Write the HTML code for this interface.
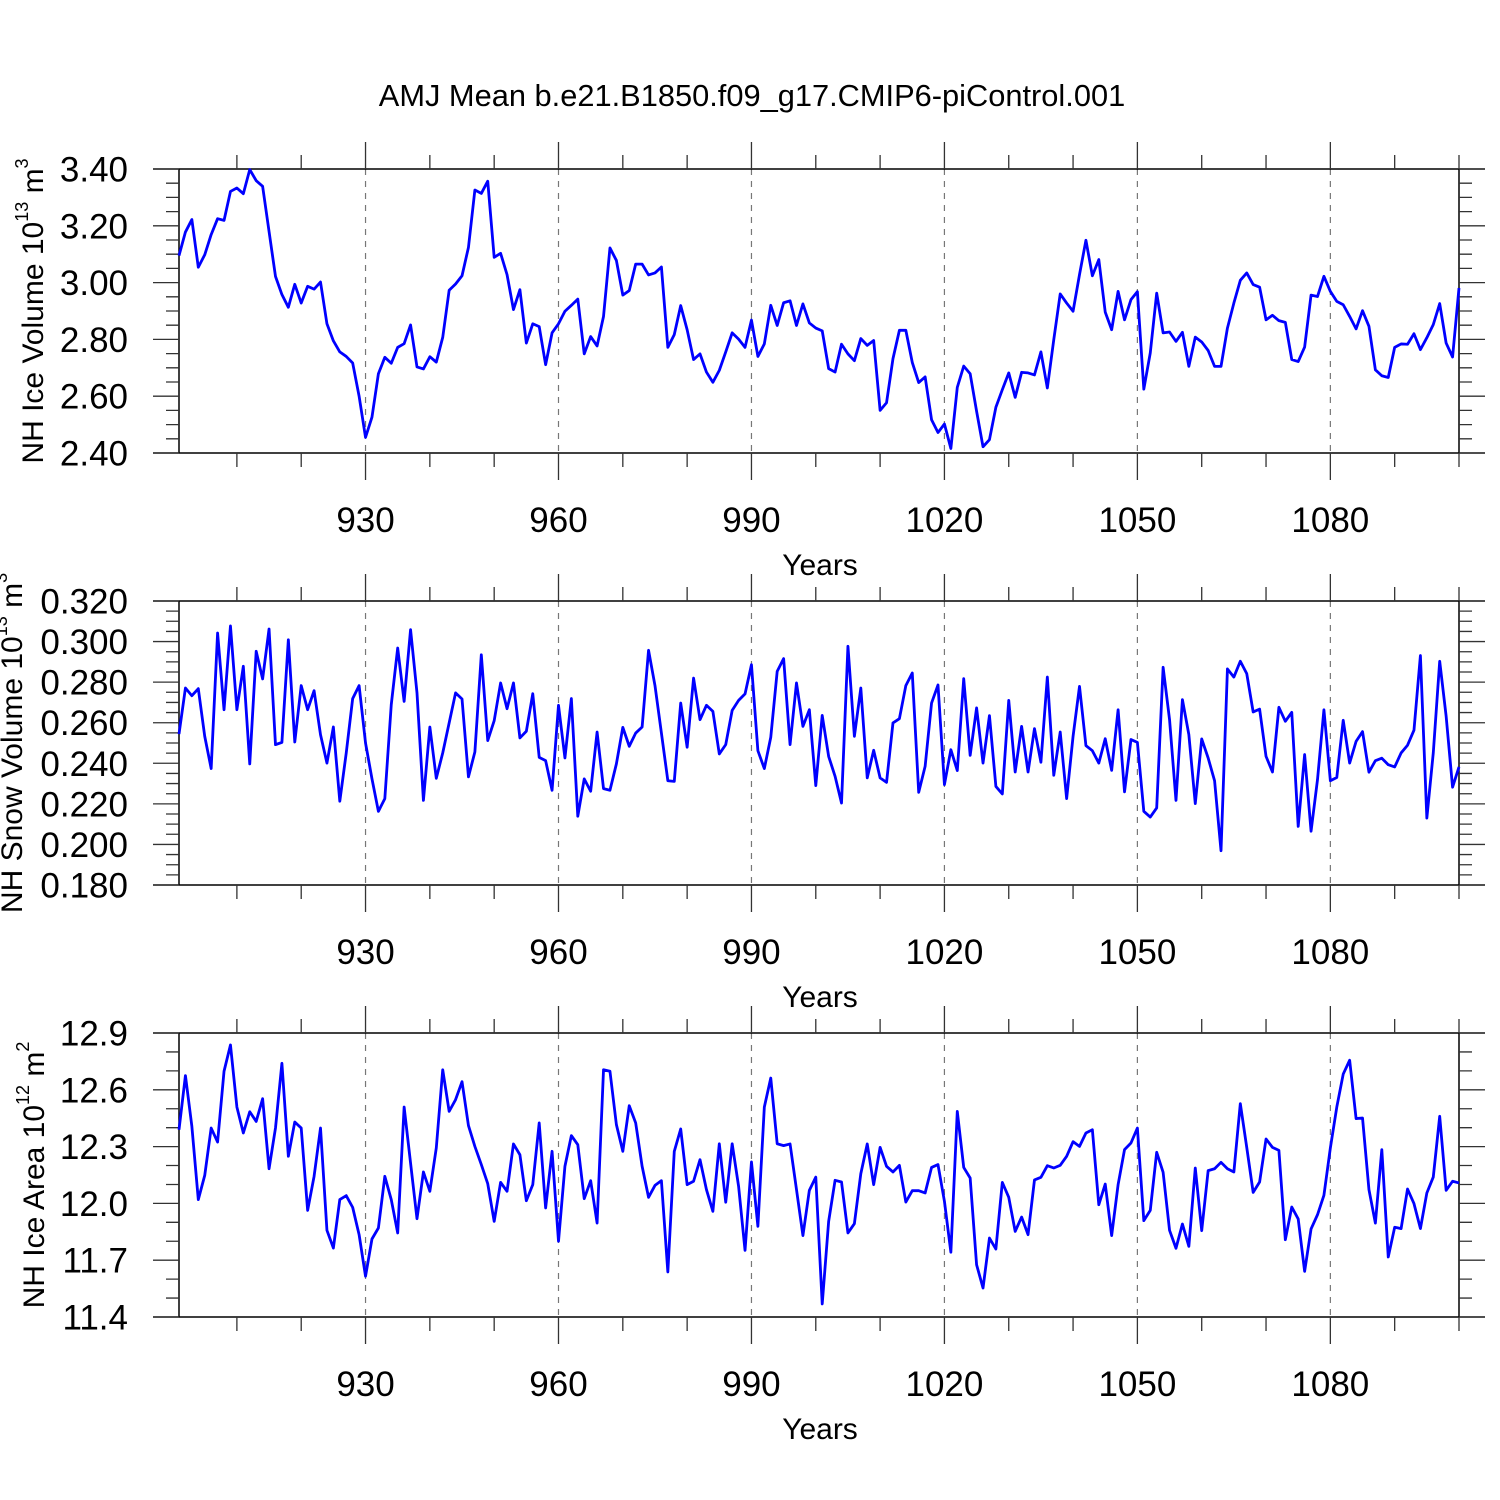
<!DOCTYPE html>
<html><head><meta charset="utf-8">
<style>
html,body{margin:0;padding:0;background:#fff;}
svg{display:block;font-family:"Liberation Sans",Arial,sans-serif;}
</style></head>
<body>
<svg id="chart" width="1500" height="1500" viewBox="0 0 1500 1500" xmlns="http://www.w3.org/2000/svg">
<rect width="1500" height="1500" fill="#fff"/>
<text x="752" y="106" font-size="30.8" text-anchor="middle">AMJ Mean b.e21.B1850.f09_g17.CMIP6-piControl.001</text>
</svg>
<script>
const years = [];
for (let y = 901; y <= 1100; y++) years.push(y);
const xTickMajor = [930, 960, 990, 1020, 1050, 1080];
const xTickMinor = [910, 920, 940, 950, 970, 980, 1000, 1010, 1030, 1040, 1060, 1070, 1090, 1100];

const iceVolume = [3.095,3.178,3.222,3.054,3.098,3.169,3.225,3.219,3.321,3.333,3.313,3.398,3.359,3.339,3.18,3.022,2.958,2.913,2.994,2.928,
2.987,2.977,3.002,2.855,2.795,2.756,2.740,2.717,2.600,2.455,2.526,2.679,2.737,2.716,2.772,2.785,2.851,2.703,2.696,2.739,
2.720,2.807,2.973,2.995,3.024,3.124,3.326,3.314,3.357,3.089,3.103,3.028,2.905,2.975,2.787,2.855,2.845,2.711,2.823,2.855,
2.899,2.920,2.942,2.749,2.810,2.777,2.881,3.122,3.078,2.956,2.972,3.065,3.065,3.027,3.034,3.055,2.772,2.817,2.919,2.834,
2.729,2.749,2.685,2.649,2.691,2.756,2.823,2.801,2.772,2.868,2.740,2.784,2.920,2.849,2.929,2.936,2.849,2.925,2.858,2.840,
2.830,2.697,2.685,2.783,2.749,2.725,2.803,2.779,2.796,2.550,2.577,2.732,2.832,2.832,2.719,2.648,2.668,2.517,2.472,2.502,
2.416,2.631,2.706,2.679,2.547,2.422,2.447,2.561,2.623,2.682,2.596,2.684,2.682,2.675,2.756,2.629,2.799,2.960,2.928,2.899,
3.028,3.149,3.024,3.081,2.896,2.834,2.969,2.869,2.940,2.968,2.625,2.752,2.963,2.823,2.826,2.793,2.825,2.705,2.808,2.791,
2.761,2.705,2.705,2.840,2.928,3.008,3.034,2.993,2.984,2.869,2.885,2.866,2.860,2.729,2.722,2.773,2.956,2.951,3.022,2.969,
2.934,2.922,2.881,2.837,2.901,2.846,2.693,2.672,2.666,2.772,2.784,2.783,2.820,2.764,2.806,2.852,2.926,2.787,2.738,2.981];

const snowVolume = [0.2544,0.2771,0.2733,0.2768,0.2533,0.2374,0.3042,0.2664,0.3077,0.2664,0.2878,0.2397,0.2952,0.2816,0.3062,0.2492,0.2503,0.3009,0.2505,0.2783,
0.2664,0.2758,0.2541,0.2401,0.2579,0.2213,0.2451,0.2719,0.2783,0.2500,0.2324,0.2163,0.2226,0.2689,0.2968,0.2705,0.3059,0.2747,0.2217,0.2579,
0.2326,0.2451,0.2599,0.2747,0.2717,0.2333,0.2456,0.2935,0.2512,0.2610,0.2796,0.2669,0.2796,0.2525,0.2558,0.2743,0.2429,0.2413,0.2267,0.2686,
0.2426,0.2719,0.2139,0.2323,0.2262,0.2554,0.2275,0.2267,0.2397,0.2577,0.2484,0.2549,0.2579,0.2957,0.2783,0.2549,0.2314,0.2311,0.2697,0.2479,
0.2820,0.2615,0.2686,0.2656,0.2446,0.2492,0.2661,0.2710,0.2742,0.2886,0.2462,0.2374,0.2528,0.2853,0.2916,0.2492,0.2796,0.2582,0.2664,0.2290,
0.2636,0.2434,0.2336,0.2204,0.2977,0.2533,0.2771,0.2328,0.2464,0.2328,0.2306,0.2599,0.2620,0.2783,0.2845,0.2257,0.2385,0.2697,0.2786,0.2295,
0.2467,0.2364,0.2817,0.2439,0.2673,0.2401,0.2635,0.2286,0.2249,0.2710,0.2357,0.2582,0.2357,0.2571,0.2405,0.2825,0.2341,0.2554,0.2226,0.2533,
0.2779,0.2487,0.2462,0.2401,0.2521,0.2365,0.2664,0.2259,0.2517,0.2503,0.2163,0.2135,0.2180,0.2873,0.2615,0.2217,0.2714,0.2541,0.2201,0.2520,
0.2426,0.2314,0.1969,0.2865,0.2825,0.2903,0.2842,0.2653,0.2667,0.2434,0.2357,0.2676,0.2607,0.2651,0.2089,0.2443,0.2065,0.2319,0.2664,0.2314,
0.2330,0.2612,0.2401,0.2508,0.2556,0.2356,0.2413,0.2425,0.2393,0.2382,0.2451,0.2489,0.2563,0.2931,0.2130,0.2451,0.2903,0.2632,0.2282,0.2382];

const iceArea = [12.389,12.675,12.407,12.020,12.148,12.398,12.324,12.698,12.837,12.509,12.372,12.484,12.433,12.553,12.183,12.398,12.740,12.249,12.430,12.398,
11.963,12.143,12.398,11.858,11.764,12.020,12.041,11.979,11.835,11.615,11.812,11.870,12.143,12.020,11.844,12.509,12.213,11.919,12.166,12.064,
12.293,12.706,12.486,12.548,12.643,12.411,12.301,12.205,12.104,11.905,12.111,12.064,12.314,12.257,12.014,12.099,12.425,11.976,12.275,11.800,
12.196,12.358,12.310,12.025,12.120,11.896,12.706,12.698,12.416,12.275,12.516,12.425,12.196,12.032,12.095,12.120,11.638,12.275,12.393,12.099,
12.117,12.231,12.073,11.958,12.315,12.006,12.315,12.090,11.752,12.219,11.879,12.509,12.662,12.315,12.305,12.314,12.073,11.830,12.069,12.139,
11.469,11.905,12.122,12.113,11.844,11.893,12.157,12.314,12.099,12.296,12.196,12.166,12.201,12.007,12.067,12.067,12.055,12.190,12.205,12.011,
11.742,12.486,12.190,12.134,11.676,11.553,11.817,11.759,12.111,12.032,11.852,11.928,11.835,12.124,12.138,12.199,12.187,12.201,12.249,12.326,
12.301,12.372,12.389,11.993,12.102,11.830,12.099,12.284,12.319,12.398,11.909,11.963,12.270,12.164,11.858,11.763,11.891,11.773,12.187,11.856,
12.173,12.183,12.217,12.183,12.166,12.527,12.296,12.058,12.113,12.340,12.296,12.280,11.808,11.981,11.918,11.641,11.865,11.940,12.043,12.293,
12.509,12.683,12.756,12.448,12.451,12.073,11.896,12.284,11.717,11.874,11.867,12.076,11.999,11.867,12.055,12.139,12.460,12.069,12.117,12.108];

const iceVolumeTicks = [2.40, 2.60, 2.80, 3.00, 3.20, 3.40];
const snowVolumeTicks = [0.180, 0.200, 0.220, 0.240, 0.260, 0.280, 0.300, 0.320];
const iceAreaTicks = [11.4, 11.7, 12.0, 12.3, 12.6, 12.9];

const NS = 'http://www.w3.org/2000/svg';
const svg = document.getElementById('chart');
const X0 = 179, X1 = 1459, FL = 153, FR = 1485;
const xScale = yr => X0 + (yr - 901) * (X1 - X0) / (1100 - 901);

function mk(tag, attrs, parent) {
  const e = document.createElementNS(NS, tag);
  for (const k in attrs) e.setAttribute(k, attrs[k]);
  (parent || svg).appendChild(e);
  return e;
}

function panel(cfg) {
  const g = mk('g', {});
  
  
  const top = cfg.top, bot = cfg.top + 284;
  const ymin = cfg.ticks[0], ymax = cfg.ticks[cfg.ticks.length - 1];
  const yScale = v => bot - (v - ymin) / (ymax - ymin) * (bot - top);

  xTickMajor.forEach(t => {
    const l = mk('line', {x1: xScale(t), x2: xScale(t), y1: top, y2: bot, stroke: '#777', 'stroke-width': 1.2, 'stroke-dasharray': '6,6'}, g);
    
    
  });

  const fr = mk('path', {d: `M${FL},${top}H${FR}M${FL},${bot}H${FR}M${X0},${top}V${bot}M${X1},${top}V${bot}`, stroke: '#000', 'stroke-width': 1.5, fill: 'none'}, g);
  
  

  let d = '';
  xTickMajor.forEach(t => { const x = xScale(t); d += `M${x},${top}V${top - 27}M${x},${bot}V${bot + 27}`; });
  xTickMinor.forEach(t => { const x = xScale(t); d += `M${x},${top}V${top - 14}M${x},${bot}V${bot + 14}`; });
  const nt = cfg.ticks;
  const step = (nt[1] - nt[0]) / cfg.minorPer;
  for (let i = 0; i < nt.length; i++) {
    const y = yScale(nt[i]);
    d += `M${FL},${y}H${X0}M${X1},${y}H${FR}`;
    if (i < nt.length - 1) {
      for (let k = 1; k < cfg.minorPer; k++) {
        const ym = yScale(nt[i] + k * step);
        d += `M${X0 - 13},${ym}H${X0}M${X1},${ym}H${X1 + 13}`;
      }
    }
  }
  const tk = mk('path', {d: d, stroke: '#333', 'stroke-width': 1.3, fill: 'none'}, g);
  
  

  xTickMajor.forEach(t => {
    const tx = mk('text', {x: xScale(t), y: bot + 79, 'font-size': 35, 'text-anchor': 'middle'}, g);
    
    
    tx.textContent = t;
  });
  nt.forEach(v => {
    const tx = mk('text', {x: 128, y: yScale(v) + 12.5, 'font-size': 35, 'text-anchor': 'end'}, g);
    
    
    tx.textContent = v.toFixed(cfg.dec);
  });
  const xt = mk('text', {x: 820, y: bot + 122, 'font-size': 30, 'text-anchor': 'middle'}, g);
  
  
  xt.textContent = 'Years';

  const cy = (top + bot) / 2;
  const yt = mk('text', {x: cfg.titleX, y: cy, 'font-size': 30, 'text-anchor': 'middle', transform: `rotate(-90 ${cfg.titleX} ${cy})`}, g);
  
  
  yt.appendChild(document.createTextNode(cfg.title + ' 10'));
  const s1 = mk('tspan', {dy: -15, 'font-size': 18}, yt);
  s1.textContent = cfg.exp;
  const s2 = mk('tspan', {dy: 15}, yt);
  s2.textContent = ' m';
  const s3 = mk('tspan', {dy: -15, 'font-size': 18}, yt);
  s3.textContent = cfg.unitExp;

  const pts = cfg.values.map((v, i) => `${xScale(years[i]).toFixed(2)},${yScale(v).toFixed(2)}`).join(' ');
  const pl = mk('polyline', {points: pts, fill: 'none', stroke: '#0000ff', 'stroke-width': 2.8, 'stroke-linejoin': 'round'}, g);
  
  
}

panel({name: 'ice-volume-panel', seriesName: 'ice-volume-line', top: 169, ticks: iceVolumeTicks, minorPer: 4, dec: 2, values: iceVolume, title: 'NH Ice Volume', exp: '13', unitExp: '3', titleX: 43});
panel({name: 'snow-volume-panel', seriesName: 'snow-volume-line', top: 601, ticks: snowVolumeTicks, minorPer: 4, dec: 3, values: snowVolume, title: 'NH Snow Volume', exp: '13', unitExp: '3', titleX: 22});
panel({name: 'ice-area-panel', seriesName: 'ice-area-line', top: 1033, ticks: iceAreaTicks, minorPer: 3, dec: 1, values: iceArea, title: 'NH Ice Area', exp: '12', unitExp: '2', titleX: 44});
</script>
</body></html>
